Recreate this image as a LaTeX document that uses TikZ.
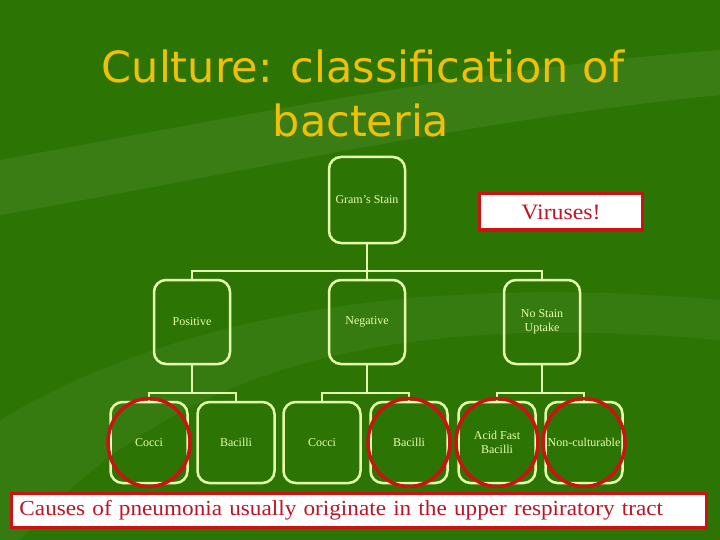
\documentclass[tikz,border=0pt]{standalone}
\usepackage{fontspec}
\setmainfont{Liberation Serif}
\newfontfamily\titlefont{DejaVu Sans}
\newfontfamily\notefont[FakeStretch=1.08]{Liberation Serif}
\usetikzlibrary{shapes.geometric, positioning}
\definecolor{slidegreen}{RGB}{44,116,4}
\definecolor{palegreen}{RGB}{230,255,172}
\definecolor{ringred}{RGB}{204,18,18}
\definecolor{titleyel}{RGB}{240,192,8}
\definecolor{notered}{RGB}{190,20,40}

\begin{document}
\begin{tikzpicture}[
  x=1pt, y=-1pt,
  box/.style={rectangle, rounded corners=12pt, draw=palegreen, line width=2.5pt, outer sep=0pt, minimum width=76pt, minimum height=84pt, align=center, text=palegreen, font=\fontsize{12}{14}\selectfont, inner sep=1pt},
  leaf/.style={box, minimum width=77pt, minimum height=81pt},
  link/.style={draw=palegreen, line width=2.5pt},
  ring/.style={ellipse, draw=ringred, line width=3.5pt, minimum width=82pt, minimum height=88pt, inner sep=0pt},
  flag/.style={rectangle, draw=ringred, fill=white, line width=3pt, text=notered, inner sep=2pt},
  title/.style={text=titleyel, font=\titlefont\fontsize{43}{54}\selectfont, anchor=base, inner sep=0pt}
]

% slide background
\fill[slidegreen] (0,0) rectangle (720,540);
\useasboundingbox (0,0) rectangle (720,540);
\fill[white, opacity=0.07] (0,160) .. controls (220,120) and (460,70) .. (720,50) -- (720,95) .. controls (470,120) and (230,175) .. (0,215) -- cycle;
\fill[white, opacity=0.05] (0,420) .. controls (150,330) and (380,270) .. (720,300) -- (720,340) .. controls (380,310) and (170,370) .. (20,540) -- (0,540) -- cycle;

% title
\node[title] (head) at (363,83) {Culture: classification of};
\node[title] (headb) at (361,137) {bacteria};

% tree
\node[box, minimum height=86pt] (gram) at (367,200) {Gram’s Stain};
\node[box, below=37pt of gram] (neg) {Negative};
\node[box, left=99pt of neg] (pos) {Positive};
\node[box, right=99pt of neg] (nostain) {No Stain\\Uptake};

\node[leaf, below=38pt of pos, xshift=-43pt] (coccA) {Cocci};
\node[leaf, below=38pt of pos, xshift=44pt] (bacA) {Bacilli};
\node[leaf, below=38pt of neg, xshift=-45pt] (coccB) {Cocci};
\node[leaf, below=38pt of neg, xshift=42pt] (bacB) {Bacilli};
\node[leaf, below=38pt of nostain, xshift=-45pt] (acid) {Acid Fast\\Bacilli};
\node[leaf, below=38pt of nostain, xshift=42pt] (noncult) {Non-culturable};

\foreach \c in {pos,neg,nostain}
  \draw[link] (\c.north) -- ++(0,9pt) -| (gram.south);
\foreach \c in {coccA,bacA}
  \draw[link] (\c.north) -- ++(0,9pt) -| (pos.south);
\foreach \c in {coccB,bacB}
  \draw[link] (\c.north) -- ++(0,9pt) -| (neg.south);
\foreach \c in {acid,noncult}
  \draw[link] (\c.north) -- ++(0,9pt) -| (nostain.south);

% red marks
\foreach \c in {coccA,bacB,acid,noncult}
  \node[ring] (ring-\c) at (\c) {};

\node[flag, minimum width=163pt, minimum height=36pt, font=\notefont\fontsize{22}{24}\selectfont] (virus) at (561,212) {Viruses!};

\node[flag, anchor=west, text width=679pt, inner xsep=8pt, minimum height=34pt, align=left, font=\notefont\fontsize{21.5}{24}\selectfont] (cause) at (10,510) {Causes of pneumonia usually originate in the upper respiratory tract};

\end{tikzpicture}
\end{document}
